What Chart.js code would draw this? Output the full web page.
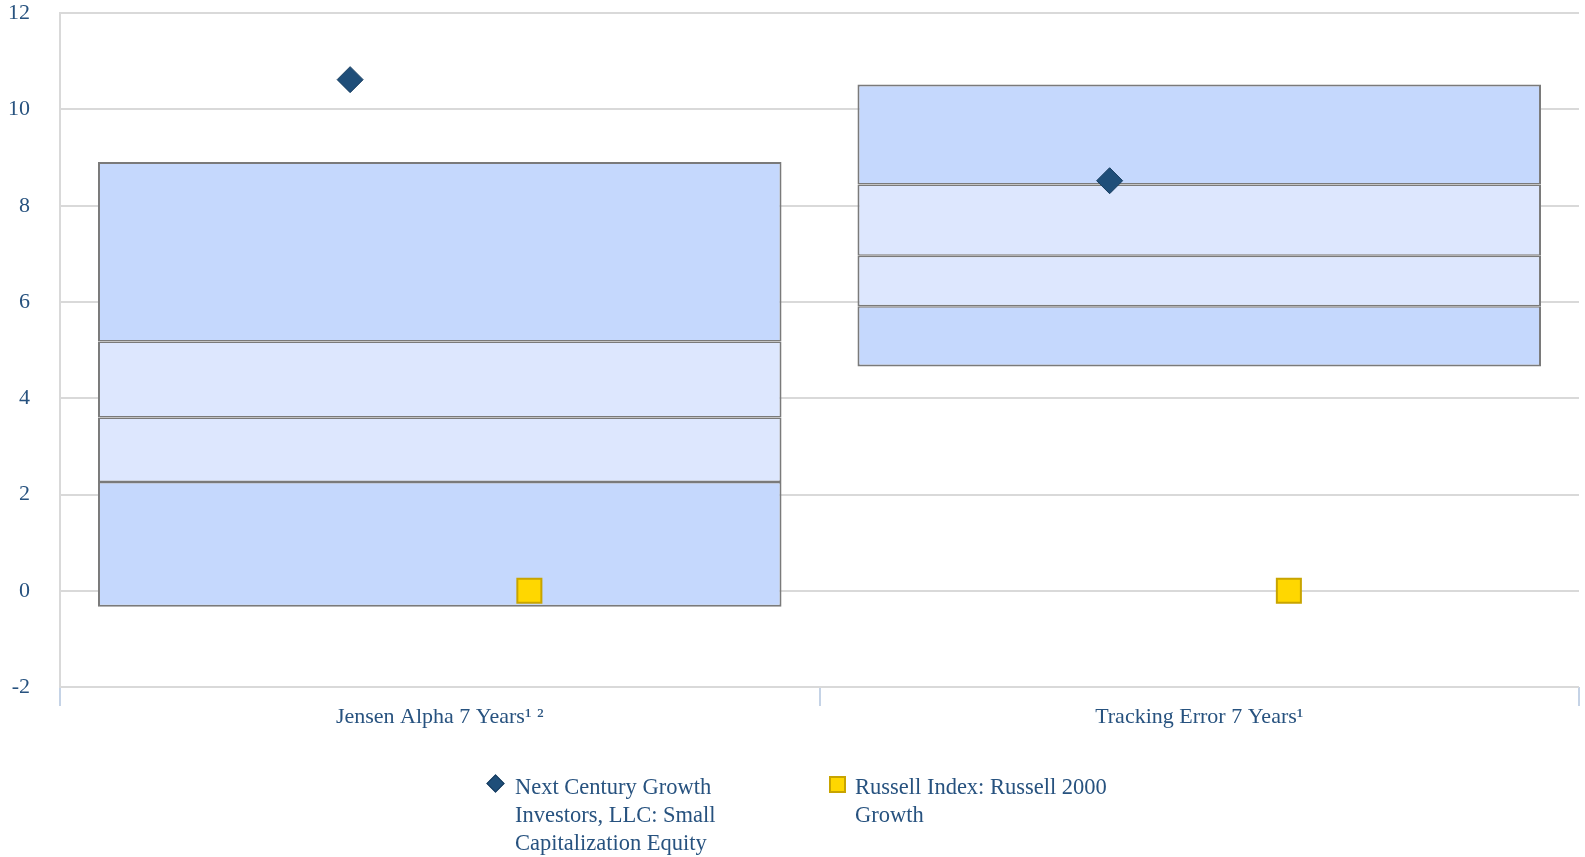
<!DOCTYPE html>
<html>
<head>
<meta charset="utf-8">
<script src="https://cdn.jsdelivr.net/npm/chart.js@4/dist/chart.umd.min.js"></script>
<style>
  html, body { margin: 0; padding: 0; background: #ffffff; }
  #wrap { position: relative; width: 1585px; height: 857px; }
  #chart { position: absolute; left: 0; top: 0; }
  .leg { position: absolute; font-family: "Liberation Serif", "Times New Roman", serif; font-size: 22.5px; line-height: 28px; color: #27527f; white-space: nowrap; }
  .mk { position: absolute; box-sizing: border-box; }
  #mk1 { width: 13px; height: 13px; background: #1f4e79; border: 1px solid #173d60; transform: rotate(45deg); }
  #mk2 { width: 17px; height: 17px; background: #ffd700; border: 2px solid #c8a400; }
</style>
</head>
<body>
<div id="wrap">
  <canvas id="chart" width="1585" height="857"></canvas>
  <div class="mk" id="mk1" style="left:489px; top:777px;"></div>
  <div class="leg" style="left:515px; top:773px;">Next Century Growth<br>Investors, LLC: Small<br>Capitalization Equity</div>
  <div class="mk" id="mk2" style="left:829px; top:776px;"></div>
  <div class="leg" style="left:855px; top:773px;">Russell Index: Russell 2000<br>Growth</div>
</div>
<script>
// ---- data ----
const categories = ['Jensen Alpha 7 Years\u00B9 \u00B2', 'Tracking Error 7 Years\u00B9'];
// band boundaries per category: [bottom, 25th, median, 75th, top]
const bandLow    = [-0.33, 4.66];
const bandQ1     = [2.26, 5.91];
const bandMedian = [3.60, 6.96];
const bandQ3     = [5.18, 8.44];
const bandHigh   = [8.91, 10.52];
const managerValues = [10.62, 8.52];
const indexValues   = [0.00, 0.00];
const yTicks = [-2, 0, 2, 4, 6, 8, 10, 12];

// ---- styles ----
const darkBand = '#c5d8fd';
const lightBand = '#dde7fe';
const bandBorder = '#7a7a7a';
const textColor = '#27527f';
const markerOffset = 0.118; // cluster offset within category (category units)

function floating(lo, hi) { return lo.map((v, i) => [v, hi[i]]); }

const barCommon = {
  type: 'bar',
  xAxisID: 'x',
  grouped: false,
  barPercentage: 0.9,
  categoryPercentage: 1.0,
  borderColor: bandBorder,
  borderSkipped: false,
  order: 1
};

const datasets = [
  Object.assign({}, barCommon, { label: 'low', data: floating(bandLow, bandQ1), backgroundColor: darkBand,
    borderWidth: { top: 1.5, bottom: 2, left: 2, right: 2 } }),
  Object.assign({}, barCommon, { label: 'q1', data: floating(bandQ1, bandMedian), backgroundColor: lightBand,
    borderWidth: { top: 1.5, bottom: 1.5, left: 2, right: 2 } }),
  Object.assign({}, barCommon, { label: 'q3', data: floating(bandMedian, bandQ3), backgroundColor: lightBand,
    borderWidth: { top: 1.5, bottom: 1.5, left: 2, right: 2 } }),
  Object.assign({}, barCommon, { label: 'high', data: floating(bandQ3, bandHigh), backgroundColor: darkBand,
    borderWidth: { top: 2, bottom: 1.5, left: 2, right: 2 } }),
  {
    type: 'scatter', xAxisID: 'xm', order: 0,
    label: 'Next Century Growth Investors, LLC: Small Capitalization Equity',
    data: managerValues.map((v, i) => ({ x: i - markerOffset, y: v })),
    pointStyle: 'rectRot', pointRadius: 13, pointHoverRadius: 13,
    backgroundColor: '#1f4e79', borderColor: '#173d60', borderWidth: 1
  },
  {
    type: 'scatter', xAxisID: 'xm', order: 0,
    label: 'Russell Index: Russell 2000 Growth',
    data: indexValues.map((v, i) => ({ x: i + markerOffset, y: v })),
    pointStyle: 'rect', pointRadius: 17, pointHoverRadius: 17,
    backgroundColor: '#ffd700', borderColor: '#c8a400', borderWidth: 2
  }
];

const font = { family: '"Liberation Serif", "Times New Roman", serif', size: 22 };

new Chart(document.getElementById('chart'), {
  data: { labels: categories, datasets: datasets },
  options: {
    responsive: false,
    animation: false,
    layout: { autoPadding: false, padding: { top: 13, right: 6, left: 0, bottom: 128.5 } },
    plugins: { legend: { display: false }, tooltip: { enabled: false } },
    scales: {
      x: {
        type: 'category',
        offset: true,
        grid: { offset: true, drawOnChartArea: false, drawTicks: true, tickLength: 19, color: '#c5d3e6', lineWidth: 2 },
        border: { display: false },
        ticks: { font: font, color: textColor, padding: -2, maxRotation: 0 }
      },
      xm: {
        type: 'linear', display: false, min: -0.5, max: 1.5
      },
      y: {
        type: 'linear', min: -2, max: 12,
        afterFit: (s) => { s.width = 60; },
        afterBuildTicks: (s) => { s.ticks = yTicks.map(v => ({ value: v })); },
        grid: { color: '#d9d9d9', lineWidth: 2, drawTicks: true, tickLength: 30, tickColor: 'rgba(0,0,0,0)' },
        border: { display: true, color: '#d9d9d9', width: 2 },
        ticks: { font: font, color: textColor, padding: 0 }
      }
    }
  }
});
</script>
</body>
</html>
